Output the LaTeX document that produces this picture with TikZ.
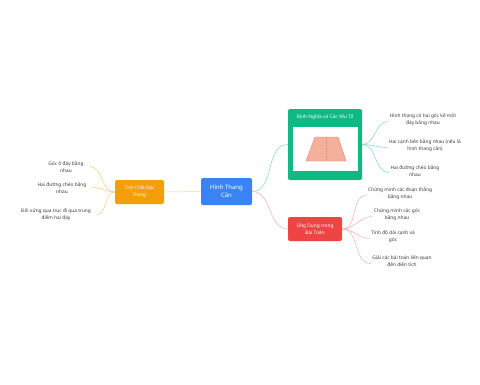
\documentclass[tikz,border=0pt]{standalone}
\usepackage{fontspec}
\setmainfont{Noto Sans}
\usetikzlibrary{positioning}
\definecolor{mainblue}{HTML}{3B82F6}
\definecolor{proporange}{HTML}{F59E0B}
\definecolor{defgreen}{HTML}{10B981}
\definecolor{appred}{HTML}{EF4444}
\definecolor{leafgray}{HTML}{3A3A3A}
\definecolor{trapfill}{HTML}{F4B09A}
\definecolor{trapline}{HTML}{D98670}
\tikzset{
  topic/.style={rounded corners=2pt, text=white, align=center, inner sep=2pt},
  leaf/.style={text=leafgray, align=center, inner sep=1.5pt, font=\fontsize{4.8}{7}\selectfont},
  link/.style={line width=0.5pt}
}
\begin{document}
\begin{tikzpicture}[x=1pt,y=-1pt]
 \useasboundingbox[fill=white] (0,0) rectangle (480,384);
 % central topic
 \node[topic, fill=mainblue, minimum width=51pt, minimum height=27pt, font=\fontsize{6}{8}\selectfont] (cen) at (226.5,191.5) {Hình Thang\\Cân};
 % left branch
 \node[topic, fill=proporange, minimum width=49pt, minimum height=24pt, font=\fontsize{4.6}{7}\selectfont] (prop) at (139.5,192) {Tính Chất Đặc\\Trưng};
 \node[leaf] (p1) at (66,166.5) {Góc ở đáy bằng\\nhau};
 \node[leaf] (p2) at (62,187.5) {Hai đường chéo bằng\\nhau};
 \node[leaf] (p3) at (56,214.5) {Đối xứng qua trục đi qua trung\\điểm hai đáy};
 \draw[link, proporange!40] (cen.west) -- (prop.east);
 \foreach \n in {p1,p2,p3} \draw[link, proporange!55] (prop.west) to[out=180,in=0] ([xshift=4pt]\n.east);
 % definition box
 \node[rounded corners=2pt, fill=defgreen, minimum width=74pt, minimum height=71pt] (def) at (325,144.5) {};
 \node[text=white, font=\fontsize{4.8}{6}\selectfont\bfseries, below=2pt of def.north] (deft) {Định Nghĩa và Các Yếu Tố};
 \fill[white] (293,127) rectangle (358,171);
 \draw[trapline, fill=trapfill, line width=0.4pt] (306,161) -- (315,137) -- (338,137) -- (346,161) -- cycle;
 \draw[trapline, dashed, line width=0.3pt, dash pattern=on 1pt off 1pt] (326.5,137) -- (326.5,161);
 \node[leaf] (d1) at (423,119.5) {Hình thang có hai góc kề một\\đáy bằng nhau};
 \node[leaf] (d2) at (425,145.5) {Hai cạnh bên bằng nhau (nếu là\\hình thang cân)};
 \node[leaf] (d3) at (415,170.5) {Hai đường chéo bằng\\nhau};
 \draw[link, defgreen!55] (cen.east) to[out=0,in=180] (def.west);
 \foreach \n in {d1,d2,d3} \draw[link, defgreen!55] (def.east) to[out=0,in=180] ([yshift=-2pt]\n.west);
 % applications
 \node[topic, fill=appred, minimum width=54pt, minimum height=24pt, font=\fontsize{4.8}{6.5}\selectfont] (app) at (315,229) {Ứng Dụng trong\\Bài Toán};
 \node[leaf] (a1) at (400,193.5) {Chứng minh các đoạn thẳng\\bằng nhau};
 \node[leaf] (a2) at (397,214.5) {Chứng minh các góc\\bằng nhau};
 \node[leaf] (a3) at (393,236.5) {Tính độ dài cạnh và\\góc};
 \node[leaf] (a4) at (402,261.5) {Giải các bài toán liên quan\\đến diện tích};
 \draw[link, appred!45] (cen.east) to[out=0,in=180] (app.west);
 \foreach \n in {a1,a2,a3,a4} \draw[link, appred!45] (app.east) to[out=0,in=180] ([yshift=-2pt]\n.west);
\end{tikzpicture}
\end{document}
